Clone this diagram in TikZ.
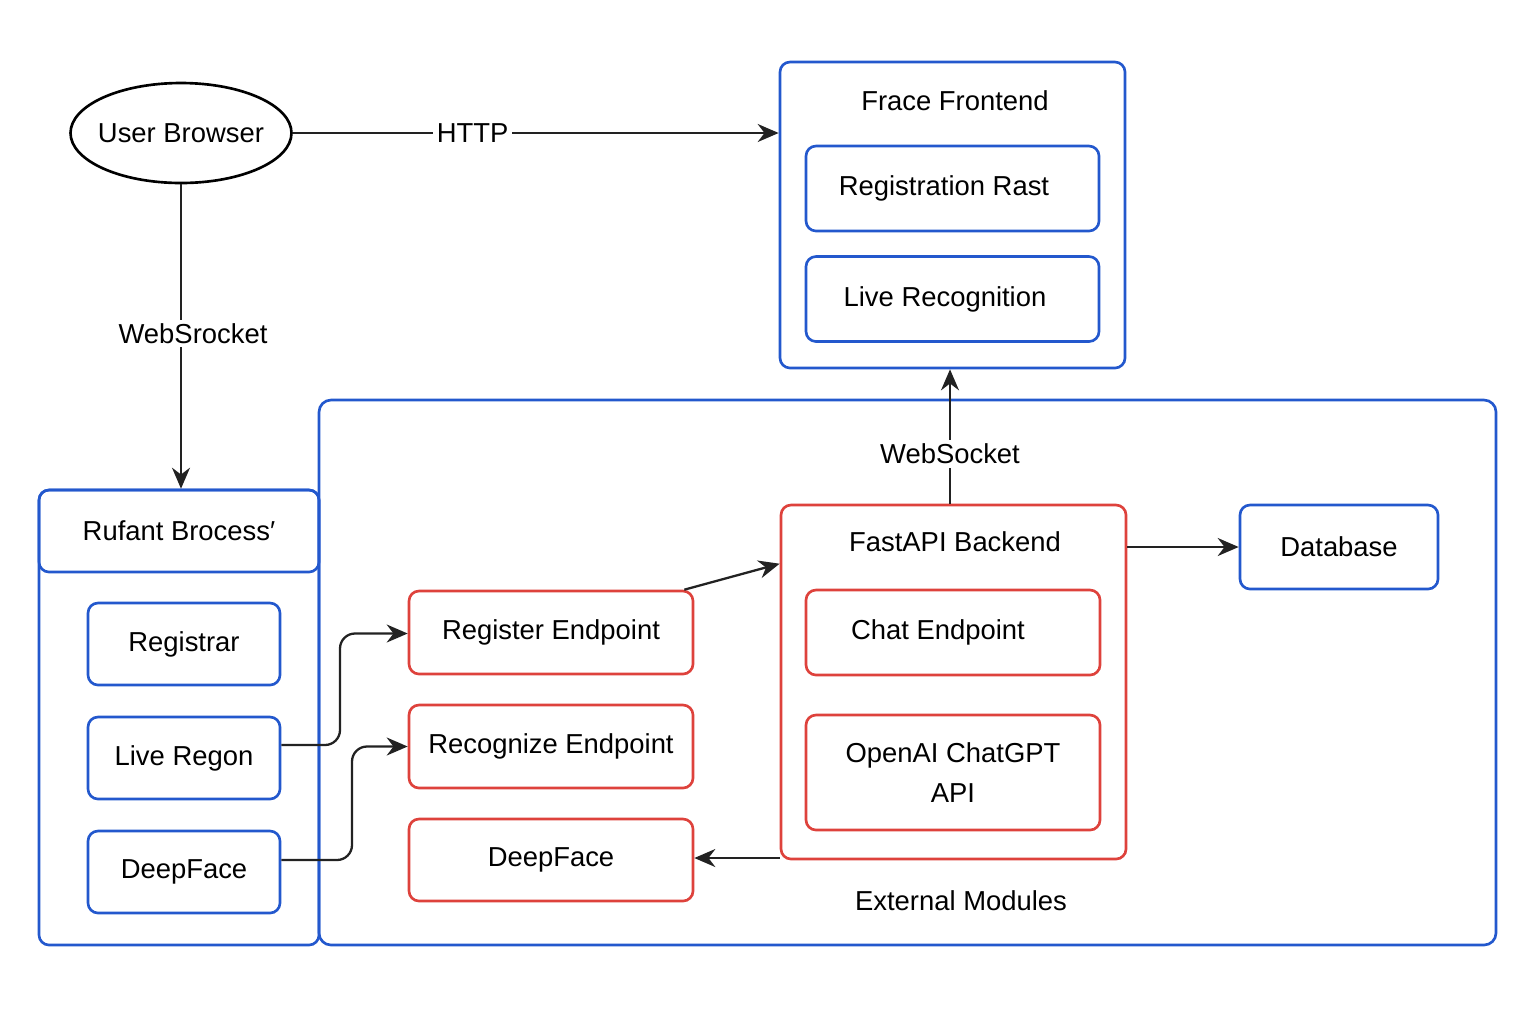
\documentclass[tikz,border=0pt]{standalone}
\usepackage{fontspec}
\setmainfont{Liberation Sans}
\usetikzlibrary{shapes.geometric,arrows.meta}
\definecolor{boxblue}{RGB}{35,88,205}
\definecolor{boxred}{RGB}{222,66,60}
\definecolor{arrowgray}{RGB}{34,34,34}
\tikzset{
    bluebox/.style={shape=rectangle, draw=boxblue, line width=0.75pt, rounded corners=1mm},
    redbox/.style={shape=rectangle, draw=boxred, line width=0.75pt, rounded corners=1mm},
    arr/.style={draw=arrowgray, line width=0.65pt, -{Stealth[length=2.1mm, width=1.8mm]}},
    lbl/.style={fill=white, inner sep=1pt},
}
\begin{document}
\begin{tikzpicture}[x=1cm, y=-1cm, font=\fontsize{7.8}{9.6}\selectfont]
    \useasboundingbox (0,0) rectangle (15.36,10.24);

    % browser
    \node (browser) at (1.81, 1.33) [shape=ellipse, draw, line width=0.75pt, inner xsep=-0.6mm, minimum width=2.21cm, minimum height=1.0cm] {User Browser};

    % frontend
    \node (front) at (9.525, 2.15) [bluebox, minimum width=3.45cm, minimum height=3.06cm] {};
    \node (frontlbl) at (9.55, 1.01) {Frace Frontend};
    \node (regfront) at (9.525, 1.885) [bluebox, minimum width=2.93cm, minimum height=0.85cm] {\hspace*{-0.17cm}Registration Rast};
    \node (liverec) at (9.525, 2.99) [bluebox, minimum width=2.93cm, minimum height=0.85cm] {\hspace*{-0.15cm}Live Recognition};

    % process column
    \node (proc) at (1.79, 7.175) [bluebox, minimum width=2.80cm, minimum height=4.55cm] {};
    \node (prochead) at (1.79, 5.31) [bluebox, minimum width=2.80cm, minimum height=0.82cm] {Rufant Brocess′};
    \node (registrar) at (1.84, 6.44) [bluebox, minimum width=1.92cm, minimum height=0.82cm] {Registrar};
    \node (livereg) at (1.84, 7.58) [bluebox, minimum width=1.92cm, minimum height=0.82cm] {Live Regon};
    \node (dfblue) at (1.84, 8.72) [bluebox, minimum width=1.92cm, minimum height=0.82cm] {DeepFace};

    % external modules
    \node (ext) at (9.075, 6.725) [bluebox, rounded corners=1.2mm, minimum width=11.77cm, minimum height=5.45cm] {};
    \node (extlbl) at (9.61, 9.01) {External Modules};
    \node (regep) at (5.51, 6.325) [redbox, minimum width=2.84cm, minimum height=0.83cm] {Register Endpoint};
    \node (recep) at (5.51, 7.465) [redbox, minimum width=2.84cm, minimum height=0.83cm] {Recognize Endpoint};
    \node (dfred) at (5.51, 8.60) [redbox, minimum width=2.84cm, minimum height=0.82cm] {DeepFace};
    \node (fast) at (9.535, 6.82) [redbox, minimum width=3.45cm, minimum height=3.54cm] {};
    \node (fastlbl) at (9.55, 5.42) {FastAPI Backend};
    \node (chatep) at (9.53, 6.325) [redbox, minimum width=2.94cm, minimum height=0.85cm] {\hspace*{-0.3cm}Chat Endpoint};
    \node (openai) at (9.53, 7.725) [redbox, minimum width=2.94cm, minimum height=1.15cm, align=center, font=\fontsize{7.8}{11.4}\selectfont] {OpenAI ChatGPT\\API};
    \node (db) at (13.39, 5.47) [bluebox, minimum width=1.98cm, minimum height=0.84cm] {Database};

    \draw[arr] (browser.east) -- node[lbl, pos=0.37] {HTTP} (browser.east -| front.west);
    \draw[arr] (browser.south) -- node[lbl, pos=0.49, xshift=0.12cm] {WebSrocket} (browser.south |- prochead.north);
    \draw[arr] ([xshift=-0.35mm]fast.north) -- node[lbl, pos=0.37] {WebSocket} ([xshift=-0.35mm]fast.north |- front.south);
    \draw[arr] ([xshift=-0.1cm]regep.north east) -- ([yshift=-0.6cm]fast.north west);
    \draw[arr] (db.west -| fast.east) -- (db.west);
    \draw[arr] ([yshift=0.2mm]dfred.east -| fast.west) -- ([yshift=0.2mm]dfred.east);
    \draw[arr, rounded corners=1.5mm] ([yshift=1.3mm]livereg.east) -| (3.40, 6.9) |- ([yshift=-0.1mm]regep.west);
    \draw[arr, rounded corners=1.5mm] ([yshift=1.2mm]dfblue.east) -| (3.52, 8.0) |- (recep.west);
\end{tikzpicture}
\end{document}
